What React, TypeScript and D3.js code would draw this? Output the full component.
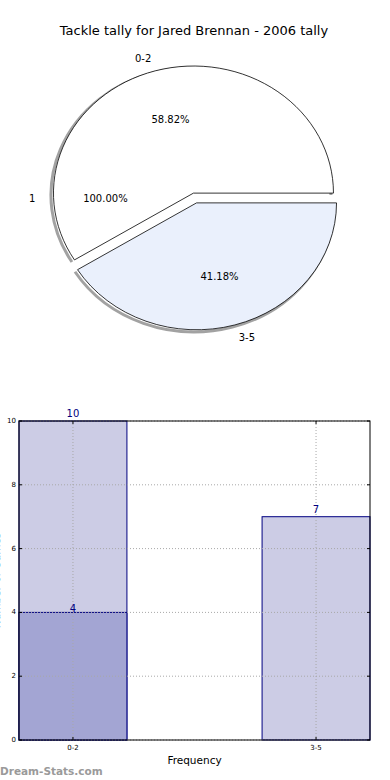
import React from 'react';
import * as d3 from 'd3';

// pie data
const pieLabels = ['0-2', '1', '3-5'];
const pieValues = [10, 0, 7];
const piePcts = ['58.82%', '100.00%', '41.18%'];
const pieFills = ['#ffffff', '#ffffff', '#eaf0fc'];
// the empty "1" slice gets its label at 180deg in the original
const phantomAngleDeg = 180;

// bar data
const categories = ['0-2', '3-5'];
const totals = [10, 7];
const overlay = [4, 0];
const yTicks = [0, 2, 4, 6, 8, 10];

const W = 390;
const H = 780;
const FONT = '"DejaVu Sans", sans-serif';

function outerArc(a0: number, a1: number) {
  const p = d3.path();
  const s = a0 - Math.PI / 2, e = a1 - Math.PI / 2;
  p.moveTo(Math.cos(s), Math.sin(s));
  p.arc(0, 0, 1, s, e, e < s);
  return p.toString();
}

function Pie() {
  const cx = 195, cy = 198, rx = 140, ry = 127, explode = 0.04;
  const pie = d3.pie<number>().sort(null).startAngle(Math.PI / 2).endAngle(Math.PI / 2 - 2 * Math.PI).value(d => d);
  const arcs = pie(pieValues);
  const wedge = d3.arc<any>().innerRadius(0).outerRadius(1);

  const items = arcs.map((a, i) => {
    let mid = (a.startAngle + a.endAngle) / 2;
    if (a.value === 0) mid = Math.PI / 2 - (phantomAngleDeg * Math.PI) / 180;
    const dx = Math.sin(mid), dy = -Math.cos(mid);
    const ox = cx + explode * rx * dx, oy = cy + explode * ry * dy;
    return { a, i, mid, dx, dy, ox, oy };
  });

  return (
    <g>
      {/* shadows along the rims */}
      {items.filter(d => d.a.value > 0).map(d => (
        <path key={'s' + d.i}
          d={outerArc(d.a.startAngle, d.a.endAngle)}
          transform={`translate(${d.ox - 2.5},${d.oy + 2})`}
          fill="none" stroke="#555" strokeOpacity={0.55} strokeWidth={3}
          vectorEffect="non-scaling-stroke"
          style={{ transform: `translate(${d.ox - 2.5}px,${d.oy + 2}px) scale(${rx},${ry})` }} />
      ))}
      {items.filter(d => d.a.value > 0).map(d => (
        <path key={'w' + d.i}
          d={wedge(d.a) || ''}
          transform={`translate(${d.ox},${d.oy}) scale(${rx},${ry})`}
          fill={pieFills[d.i]} stroke="#000" strokeWidth={0.8}
          vectorEffect="non-scaling-stroke" />
      ))}
      {items.map(d => (
        <g key={'t' + d.i} fontFamily={FONT} fontSize={10} fill="#000">
          <text x={d.ox + 1.1 * rx * d.dx} y={d.oy + 1.1 * ry * d.dy}
            textAnchor={d.dx < -1e-6 ? 'end' : d.dx > 1e-6 ? 'start' : 'middle'}
            dominantBaseline="central">{pieLabels[d.i]}</text>
          <text x={d.ox + 0.6 * rx * d.dx} y={d.oy + 0.6 * ry * d.dy}
            textAnchor="middle" dominantBaseline="central">{piePcts[d.i]}</text>
        </g>
      ))}
    </g>
  );
}

function Bars() {
  const left = 19, right = 370, top = 421, bottom = 740;
  const x = d3.scaleLinear().domain([-0.222, 1.222]).range([left, right]);
  const y = d3.scaleLinear().domain([0, 10]).range([bottom, top]);
  const bw = 0.444;
  const navy = '#000080';
  const grid = '#a8a8a8';

  return (
    <g fontFamily={FONT}>
      {categories.map((c, i) => (
        <rect key={'t' + c} x={x(i - bw / 2)} y={y(totals[i])}
          width={x(i + bw / 2) - x(i - bw / 2)} height={y(0) - y(totals[i])}
          fill="#ccccE5" stroke={navy} strokeWidth={1} />
      ))}
      {categories.map((c, i) => overlay[i] > 0 && (
        <rect key={'o' + c} x={x(i - bw / 2)} y={y(overlay[i])}
          width={x(i + bw / 2) - x(i - bw / 2)} height={y(0) - y(overlay[i])}
          fill="#a3a5d3" stroke={navy} strokeWidth={1} />
      ))}
      {/* grid */}
      {yTicks.map(t => (
        <line key={'gy' + t} x1={left} x2={right} y1={y(t)} y2={y(t)}
          stroke={grid} strokeWidth={1} strokeDasharray="1,2" />
      ))}
      {categories.map((c, i) => (
        <line key={'gx' + c} x1={x(i)} x2={x(i)} y1={top} y2={bottom}
          stroke={grid} strokeWidth={1} strokeDasharray="1,2" />
      ))}
      {/* frame */}
      <rect x={left} y={top} width={right - left} height={bottom - top} fill="none" stroke="#000" strokeWidth={1} />
      {/* ticks */}
      {yTicks.map(t => (
        <g key={'ty' + t}>
          <line x1={left} x2={left + 3} y1={y(t)} y2={y(t)} stroke="#000" />
          <line x1={right} x2={right - 3} y1={y(t)} y2={y(t)} stroke="#000" />
          <text x={left - 3} y={y(t)} textAnchor="end" dominantBaseline="central" fontSize={7} fill="#000">{t}</text>
        </g>
      ))}
      {categories.map((c, i) => (
        <g key={'tx' + c}>
          <line x1={x(i)} x2={x(i)} y1={bottom} y2={bottom - 3} stroke="#000" />
          <line x1={x(i)} x2={x(i)} y1={top} y2={top + 3} stroke="#000" />
          <text x={x(i)} y={bottom + 8} textAnchor="middle" dominantBaseline="central" fontSize={7} fill="#000">{c}</text>
        </g>
      ))}
      {/* value labels */}
      {categories.map((c, i) => (
        <text key={'vl' + c} x={x(i)} y={y(totals[i]) - 4} textAnchor="middle" fontSize={10} fill={navy}>{totals[i]}</text>
      ))}
      {categories.map((c, i) => overlay[i] > 0 && (
        <text key={'vo' + c} x={x(i)} y={y(overlay[i])} textAnchor="middle" fontSize={10} fill={navy}>{overlay[i]}</text>
      ))}
      <text x={(left + right) / 2} y={760} textAnchor="middle" dominantBaseline="central" fontSize={10.5} fill="#000">Frequency</text>
      <text transform={`translate(-4,${(top + bottom) / 2}) rotate(-90)`} textAnchor="middle" dominantBaseline="central" fontSize={10.5} fill="#000">Number of Games</text>
    </g>
  );
}

export default function App() {
  return (
    <div style={{ position: 'absolute', left: 0, top: 0, width: W, height: H, background: '#fff' }}>
      <svg width={W} height={H} style={{ display: 'block' }}>
        <rect width={W} height={H} fill="#fff" />
        <text x={194} y={30} textAnchor="middle" dominantBaseline="central" fontFamily={FONT} fontSize={13} fill="#000">
          Tackle tally for Jared Brennan - 2006 tally
        </text>
        <Pie />
        <Bars />
        <text x={0} y={771} dominantBaseline="central" fontFamily={FONT} fontSize={10.5} fontWeight="bold" fill="#9a9a9a">Dream-Stats.com</text>
      </svg>
    </div>
  );
}
